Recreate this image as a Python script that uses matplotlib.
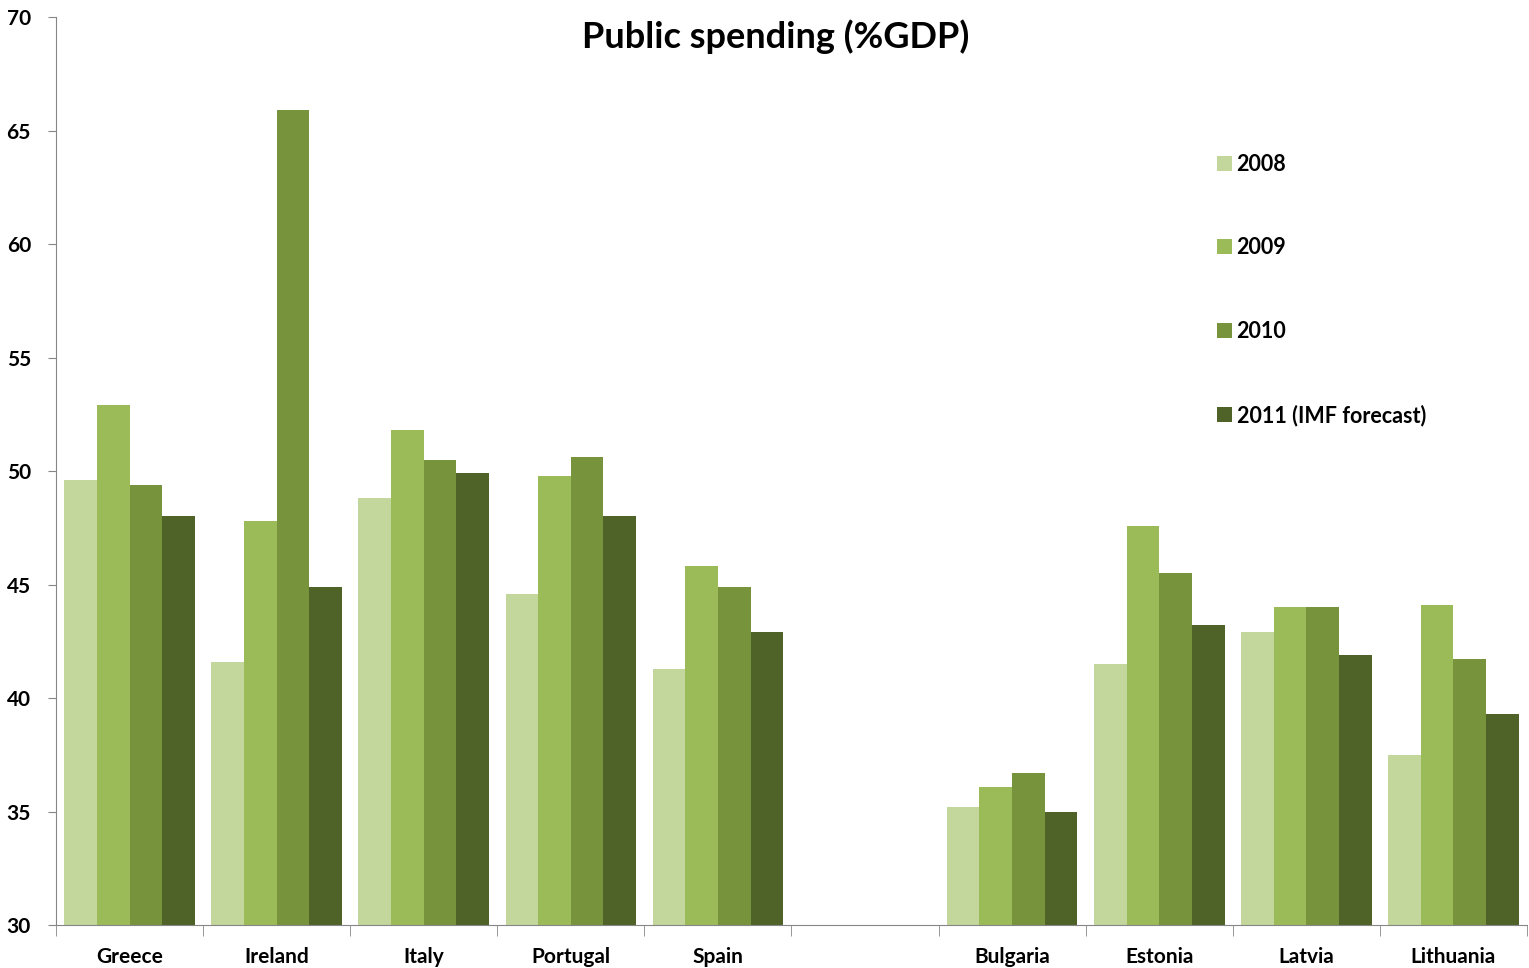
import numpy as np
import matplotlib.pyplot as plt
from matplotlib.patches import Patch

plt.rcParams["font.family"] = ["Lato", "DejaVu Sans"]
plt.rcParams["font.weight"] = "bold"

# Spending by country, one list per year ("" leaves a gap between the two groups)
countries = ["Greece", "Ireland", "Italy", "Portugal", "Spain", "",
             "Bulgaria", "Estonia", "Latvia", "Lithuania"]
spend_2008 = [49.6, 41.6, 48.8, 44.6, 41.3, np.nan, 35.2, 41.5, 42.9, 37.5]
spend_2009 = [52.9, 47.8, 51.8, 49.8, 45.8, np.nan, 36.1, 47.6, 44.0, 44.1]
spend_2010 = [49.4, 65.9, 50.5, 50.6, 44.9, np.nan, 36.7, 45.5, 44.0, 41.7]
spend_2011 = [48.0, 44.9, 49.9, 48.0, 42.9, np.nan, 35.0, 43.2, 41.9, 39.3]
years = ["2008", "2009", "2010", "2011 (IMF forecast)"]
colors = ["#c3d69b", "#9bbb59", "#77933c", "#4f6228"]

fig = plt.figure(figsize=(15.29, 9.68), dpi=100)
ax = fig.add_axes([0.0366, 0.0444, 0.9621, 0.938])

x = np.arange(len(countries))
width = 0.222
series = [spend_2008, spend_2009, spend_2010, spend_2011]
for i, (vals, col) in enumerate(zip(series, colors)):
    v = np.array(vals, dtype=float)
    ax.bar(x + (i - 1.5) * width, v - 30, width, bottom=30, color=col,
           linewidth=0)

ax.set_xlim(-0.5, len(countries) - 0.5)
ax.set_ylim(30, 70)
ax.set_yticks(range(30, 71, 5))

# category labels at centres, tick marks on the boundaries
ax.set_xticks(x)
ax.set_xticklabels(countries, fontsize=15, fontweight="bold")
ax.set_xticks(np.arange(-0.5, len(countries)), minor=True)
ax.tick_params(axis="x", which="major", length=0, pad=16)
ax.tick_params(axis="x", which="minor", length=8, color="#868686")
ax.tick_params(axis="y", length=6, color="#868686", pad=12, labelsize=15)
for lab in ax.get_yticklabels():
    lab.set_fontweight("bold")

for side in ["top", "right"]:
    ax.spines[side].set_visible(False)
for side in ["left", "bottom"]:
    ax.spines[side].set_color("#868686")

fig.text(0.507, 0.962, "Public spending (%GDP)", ha="center", va="center",
         fontsize=26, fontweight="bold")

handles = [Patch(facecolor=c, edgecolor="none") for c in colors]
fig.legend(handles, years, loc="upper left", bbox_to_anchor=(0.789, 0.852),
           frameon=False, prop={"weight": "bold", "size": 15.5},
           handlelength=0.7, handleheight=0.7, handletextpad=0.2,
           labelspacing=2.9, borderpad=0)

fig.savefig("out.png", dpi=100)
